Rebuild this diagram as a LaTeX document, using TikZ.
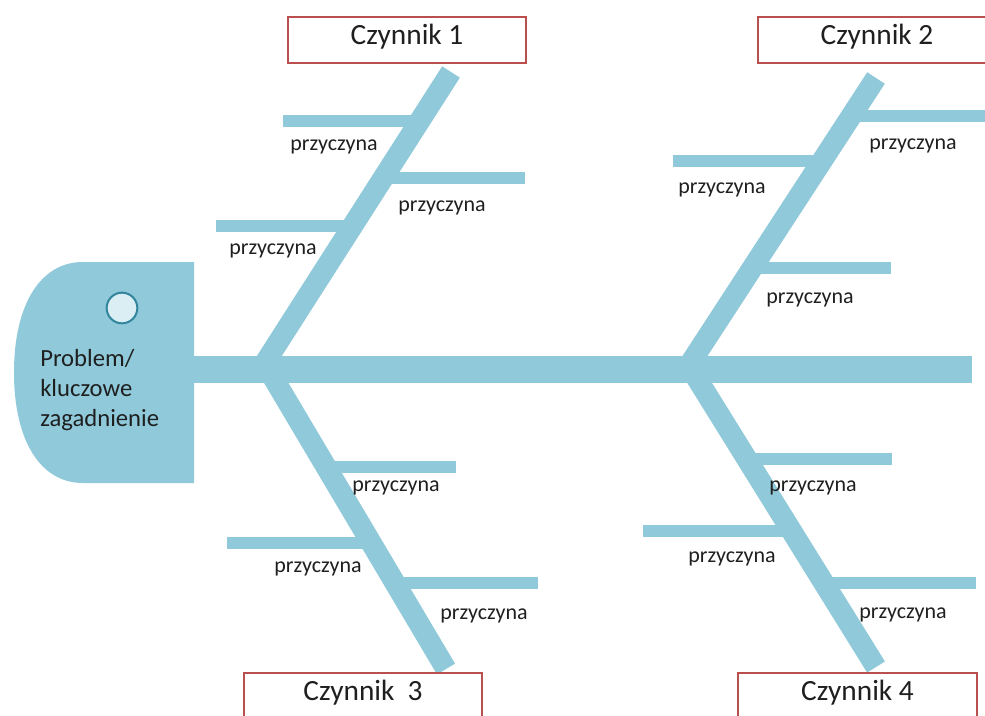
\documentclass[tikz,border=0pt]{standalone}
\usepackage{fontspec}
\setmainfont{Carlito}
\definecolor{bonec}{HTML}{8FC9DA}
\definecolor{boxc}{HTML}{B9504E}
\definecolor{textc}{HTML}{1F1F1F}
\definecolor{eyefill}{HTML}{DAEEF3}
\definecolor{eyec}{HTML}{31859C}
\begin{document}
\begin{tikzpicture}[x=0.75pt,y=-0.75pt,
  bone/.style={draw=bonec, line width=15.75pt},
  rib/.style={draw=bonec, line width=9pt},
  spinestyle/.style={draw=bonec, line width=20.25pt},
  cause/.style={font=\fontsize{16.5pt}{19pt}\selectfont, text=textc, anchor=base, inner sep=0pt},
  factor/.style={draw=boxc, line width=1.5pt, fill=white, minimum width=179pt, minimum height=34.5pt,
    inner sep=0pt, text height=0.64em, text depth=0pt, font=\fontsize{22pt}{26pt}\selectfont, text=textc}]
\useasboundingbox (0,0) rectangle (985,715);

% bone coordinates
\coordinate (B1a) at (261,369);   \coordinate (B1b) at (451,72);
\coordinate (B2a) at (686.5,369); \coordinate (B2b) at (876,78);
\coordinate (B3a) at (268,369);   \coordinate (B3b) at (446,669);
\coordinate (B4a) at (691,369);   \coordinate (B4b) at (876,667);

% ribs of bone 1
\coordinate (r1aL) at (283,121);   \coordinate (r1aR) at (420,121);
\coordinate (r1bL) at (383.5,177.5); \coordinate (r1bR) at (525,177.5);
\coordinate (r1cL) at (216,226);   \coordinate (r1cR) at (352.5,226);
% ribs of bone 2
\coordinate (r2aL) at (852,115.5); \coordinate (r2aR) at (995,115.5);
\coordinate (r2bL) at (673,161);   \coordinate (r2bR) at (822,161);
\coordinate (r2cL) at (752,268);   \coordinate (r2cR) at (891,268);
% ribs of bone 3
\coordinate (r3aL) at (326,466.5); \coordinate (r3aR) at (456,466.5);
\coordinate (r3bL) at (227,543);   \coordinate (r3bR) at (371,543);
\coordinate (r3cL) at (395,583);   \coordinate (r3cR) at (538,583);
% ribs of bone 4
\coordinate (r4aL) at (747,459);   \coordinate (r4aR) at (892,459);
\coordinate (r4bL) at (643,531);   \coordinate (r4bR) at (792,531);
\coordinate (r4cL) at (823.5,582.5); \coordinate (r4cR) at (976,582.5);

\foreach \r in {1a,1b,1c,2a,2b,2c,3a,3b,3c,4a,4b,4c}
  \draw[rib] (r\r L) -- (r\r R);

\draw[bone] (B1a) -- (B1b);
\draw[bone] (B2a) -- (B2b);
\draw[bone] (B3a) -- (B3b);
\draw[bone] (B4a) -- (B4b);

% spine
\coordinate (S0) at (190,369.5);
\coordinate (S1) at (972,369.5);
\draw[spinestyle] (S0) -- (S1);

% head
\fill[bonec] (194,262) -- (83,262) .. controls (40,262) and (14,305) .. (14,372.5)
  .. controls (14,440) and (40,483) .. (83,483) -- (194,483) -- cycle;
\node[circle, draw=eyec, fill=eyefill, line width=1.5pt, minimum size=23pt, inner sep=0pt] (eye) at (122,308) {};
\node[anchor=west, align=left, inner sep=0pt, font=\fontsize{18.5pt}{22.5pt}\selectfont, text=textc]
  (problem) at (40,390) {Problem/\\kluczowe\\zagadnienie};

% factor boxes
\node[factor] (f1) at (407,40) {Czynnik 1};
\node[factor] (f2) at (877,40) {Czynnik 2};
\node[factor] (f3) at (363,696) {Czynnik\ \ 3};
\node[factor] (f4) at (857.5,696) {Czynnik 4};

% cause labels
\node[cause] (c1a) at (334,150) {przyczyna};
\node[cause] (c1b) at (442,211) {przyczyna};
\node[cause] (c1c) at (273,254) {przyczyna};
\node[cause] (c2a) at (913,149) {przyczyna};
\node[cause] (c2b) at (722,193) {przyczyna};
\node[cause] (c2c) at (810,303) {przyczyna};
\node[cause] (c3a) at (396,491) {przyczyna};
\node[cause] (c3b) at (318,572) {przyczyna};
\node[cause] (c3c) at (484,619) {przyczyna};
\node[cause] (c4a) at (813,491) {przyczyna};
\node[cause] (c4b) at (732,562) {przyczyna};
\node[cause] (c4c) at (903,618) {przyczyna};
\end{tikzpicture}
\end{document}
